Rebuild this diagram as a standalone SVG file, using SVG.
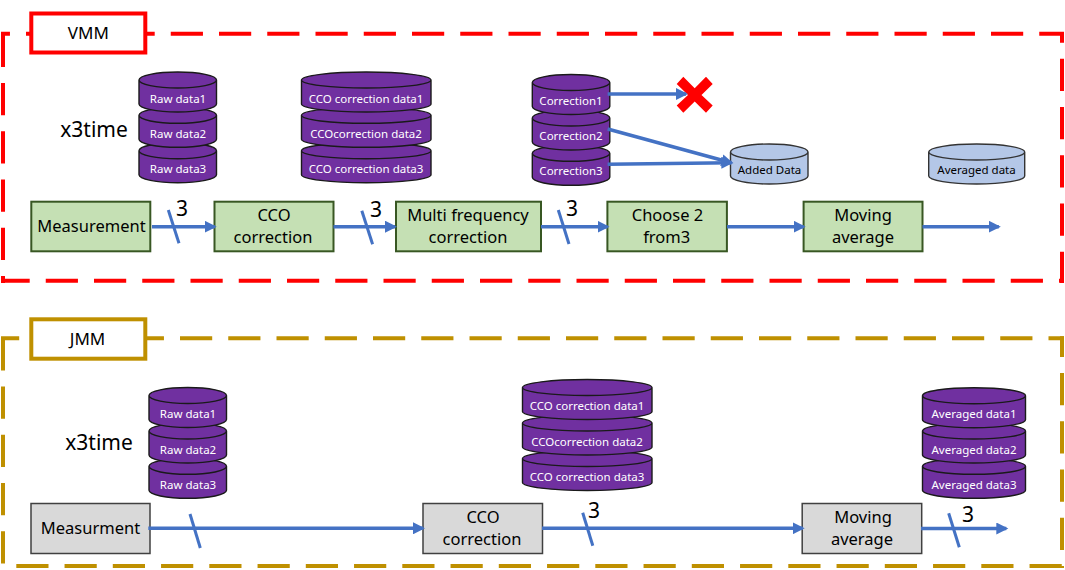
<svg xmlns="http://www.w3.org/2000/svg" width="1065" height="570" viewBox="0 0 1065 570">
<style>
text{font-family:"Noto Sans","Open Sans","Liberation Sans",sans-serif;text-anchor:middle;fill:#000}
.lb{font-size:16.5px}
.tt{font-size:17px}
.big{font-size:21px}
.num{font-size:21px}
.c{font-size:11.5px;fill:#fff}
.d{font-size:11.5px;fill:#000}
.frame{fill:none;stroke-width:4;stroke-dasharray:32.2 16.05}
.tag{fill:#fff;stroke-width:4}
.cyl{fill:#7030A0;stroke:#1a1a1a;stroke-width:1.4}
.cyb{fill:#B4C7E7;stroke:#333;stroke-width:1.4}
.gr{fill:#C5E0B4;stroke:#385723;stroke-width:2}
.gy{fill:#D9D9D9;stroke:#404040;stroke-width:1.5}
.ln{fill:none;stroke:#4472C4;stroke-width:3.5}
.sl{fill:none;stroke:#4472C4;stroke-width:3}
</style>
<defs>
<marker id="ah" markerUnits="userSpaceOnUse" markerWidth="13" markerHeight="12" refX="10" refY="6" orient="auto"><path d="M0 0L12 6L0 12Z" fill="#4472C4"/></marker>
<path id="c78" d="M0 8A38.750 8 0 0 1 77.500 8V32A38.750 8 0 0 1 0 32ZM0 8A38.750 8 0 0 1 77.500 8A38.750 8 0 0 1 0 8Z"/>
<path id="c129" d="M0 8A64.750 8 0 0 1 129.500 8V32A64.750 8 0 0 1 0 32ZM0 8A64.750 8 0 0 1 129.500 8A64.750 8 0 0 1 0 8Z"/>
<path id="c96" d="M0 8A48 8 0 0 1 96 8V32A48 8 0 0 1 0 32ZM0 8A48 8 0 0 1 96 8A48 8 0 0 1 0 8Z"/>
<path id="c104" d="M0 8A51.500 8 0 0 1 103 8V32A51.500 8 0 0 1 0 32ZM0 8A51.500 8 0 0 1 103 8A51.500 8 0 0 1 0 8Z"/>
</defs>

<g id="vmm-frame" stroke="#FF0000">
<line class="frame" x1="1" y1="33.700" x2="1064" y2="33.700" stroke-dashoffset="23.250"/>
<line class="frame" x1="3" y1="32" x2="3" y2="283" stroke-dashoffset="45.550"/>
<line class="frame" x1="1" y1="280.700" x2="1064" y2="280.700" stroke-dashoffset="3.500"/>
<line class="frame" x1="1062" y1="32" x2="1062" y2="283" stroke-dashoffset="21.550"/>
<rect class="tag" x="31.300" y="13.500" width="114" height="39"/><text class="tt" stroke="none" x="88.300" y="38.500">VMM</text></g>
<g id="jmm-frame" stroke="#BF9000">
<line class="frame" x1="1" y1="338.300" x2="1064" y2="338.300" stroke-dashoffset="14"/>
<line class="frame" x1="3" y1="336.300" x2="3" y2="568" stroke-dashoffset="46.200"/>
<line class="frame" x1="1" y1="566" x2="1064" y2="566" stroke-dashoffset="32.950"/>
<line class="frame" x1="1062" y1="336.300" x2="1062" y2="568" stroke-dashoffset="11.600"/>
<rect class="tag" x="31.300" y="319.300" width="114" height="39.400"/><text class="tt" stroke="none" x="87.500" y="345">JMM</text></g>

<text class="big" x="94" y="137">x3time</text>
<text class="big" x="99" y="450">x3time</text>

<g id="vmm-raw">
<use href="#c78" class="cyl" x="139" y="142.700"/><use href="#c78" class="cyl" x="139" y="107.300"/><use href="#c78" class="cyl" x="139" y="72"/>
<text class="c" x="178" y="102.700">Raw data1</text><text class="c" x="178" y="137.700">Raw data2</text><text class="c" x="178" y="172.700">Raw data3</text></g>
<g id="vmm-cco">
<use href="#c129" class="cyl" x="301.500" y="142.700"/><use href="#c129" class="cyl" x="301.500" y="107.300"/><use href="#c129" class="cyl" x="301.500" y="72"/>
<text class="c" x="366" y="102.700">CCO correction data1</text><text class="c" x="366" y="137.700">CCOcorrection data2</text><text class="c" x="366" y="172.700">CCO correction data3</text></g>
<g id="vmm-corr">
<use href="#c78" class="cyl" x="532.300" y="145.300"/><use href="#c78" class="cyl" x="532.300" y="110"/><use href="#c78" class="cyl" x="532.300" y="74.500"/>
<text class="c" x="571" y="105">Correction1</text><text class="c" x="571" y="140">Correction2</text><text class="c" x="571" y="175">Correction3</text></g>
<g id="vmm-added"><use href="#c78" class="cyb" x="730.500" y="144"/><text class="d" x="769.500" y="174">Added Data</text></g>
<g id="vmm-averaged"><use href="#c96" class="cyb" x="928.700" y="144"/><text class="d" x="976.500" y="174">Averaged data</text></g>

<g id="vmm-measurement"><rect class="gr" x="31.300" y="201.700" width="119" height="49.600"/><text class="lb" x="91.500" y="231.700">Measurement</text></g>
<g id="vmm-cco-box"><rect class="gr" x="214.500" y="201.700" width="119" height="49.600"/><text class="lb" x="274" y="220.500">CCO</text><text class="lb" x="273" y="243">correction</text></g>
<g id="vmm-multi"><rect class="gr" x="396" y="201.700" width="145" height="49.600"/><text class="lb" x="468" y="220.500">Multi frequency</text><text class="lb" x="468" y="243">correction</text></g>
<g id="vmm-choose"><rect class="gr" x="607.400" y="201.700" width="119.500" height="49.600"/><text class="lb" x="667.500" y="220.500">Choose 2</text><text class="lb" x="666.700" y="243">from3</text></g>
<g id="vmm-moving"><rect class="gr" x="803.600" y="201.700" width="118.900" height="49.600"/><text class="lb" x="863" y="220.500">Moving</text><text class="lb" x="863" y="243">average</text></g>

<g id="red-x"><path d="M683.300 76.700L694.700 88.300L706 76.700L712.700 84L701.500 95L712.700 105.500L706 112.700L694.700 101.500L683.300 112.700L676.700 105.500L688 95L676.700 84Z" fill="#FF0000"/></g>

<g id="jmm-raw">
<use href="#c78" class="cyl" x="149" y="458.300"/><use href="#c78" class="cyl" x="149" y="423"/><use href="#c78" class="cyl" x="149" y="387.500"/>
<text class="c" x="188" y="418.300">Raw data1</text><text class="c" x="188" y="454">Raw data2</text><text class="c" x="188" y="489">Raw data3</text></g>
<g id="jmm-cco">
<use href="#c129" class="cyl" x="522.500" y="450.500"/><use href="#c129" class="cyl" x="522.500" y="415"/><use href="#c129" class="cyl" x="522.500" y="379.500"/>
<text class="c" x="587" y="410">CCO correction data1</text><text class="c" x="587" y="446">CCOcorrection data2</text><text class="c" x="587" y="481">CCO correction data3</text></g>
<g id="jmm-averaged">
<use href="#c104" class="cyl" x="922.500" y="458.300"/><use href="#c104" class="cyl" x="922.500" y="423"/><use href="#c104" class="cyl" x="922.500" y="387.700"/>
<text class="c" x="974" y="418.300">Averaged data1</text><text class="c" x="974" y="454">Averaged data2</text><text class="c" x="974" y="489">Averaged data3</text></g>

<g id="jmm-measurment"><rect class="gy" x="31" y="503.500" width="119" height="50"/><text class="lb" x="90.500" y="533.500">Measurment</text></g>
<g id="jmm-cco-box"><rect class="gy" x="423" y="503.500" width="119.500" height="50"/><text class="lb" x="483" y="523.300">CCO</text><text class="lb" x="482" y="545">correction</text></g>
<g id="jmm-moving"><rect class="gy" x="802.200" y="503.500" width="119.500" height="50"/><text class="lb" x="863" y="523.300">Moving</text><text class="lb" x="862" y="545">average</text></g>

<g id="connectors">
<line class="ln" x1="152" y1="226.700" x2="214.700" y2="226.700" marker-end="url(#ah)"/>
<line class="ln" x1="333.500" y1="226.700" x2="395" y2="226.700" marker-end="url(#ah)"/>
<line class="ln" x1="541" y1="226.700" x2="607.500" y2="226.700" marker-end="url(#ah)"/>
<line class="ln" x1="727" y1="226.700" x2="803.700" y2="226.700" marker-end="url(#ah)"/>
<line class="ln" x1="922.500" y1="226.700" x2="998.800" y2="226.700" marker-end="url(#ah)"/>
<line class="ln" x1="607.700" y1="94" x2="686" y2="94" marker-end="url(#ah)"/>
<line class="ln" x1="607.700" y1="129" x2="731.400" y2="162.800" marker-end="url(#ah)"/>
<line class="ln" x1="607.700" y1="164.300" x2="731.300" y2="162.700" marker-end="url(#ah)"/>
<line class="ln" x1="148.300" y1="528.300" x2="423" y2="528.300" marker-end="url(#ah)"/>
<line class="ln" x1="542" y1="528.300" x2="802.700" y2="528.300" marker-end="url(#ah)"/>
<line class="ln" x1="921" y1="528.500" x2="1006.300" y2="528.500" marker-end="url(#ah)"/>
<line class="sl" x1="168.300" y1="210" x2="179" y2="243.300"/>
<line class="sl" x1="361.800" y1="210.700" x2="372.600" y2="244.300"/>
<line class="sl" x1="558.300" y1="210" x2="569" y2="244"/>
<line class="sl" x1="190" y1="514" x2="200.300" y2="548"/>
<line class="sl" x1="582.700" y1="512.700" x2="592.800" y2="545.700"/>
<line class="sl" x1="948.700" y1="513.300" x2="959.300" y2="547.300"/>
</g>
<g id="counts">
<text class="num" x="182" y="216">3</text><text class="num" x="376" y="217">3</text><text class="num" x="572" y="216">3</text><text class="num" x="594" y="518">3</text><text class="num" x="968" y="522">3</text>
</g>
</svg>
